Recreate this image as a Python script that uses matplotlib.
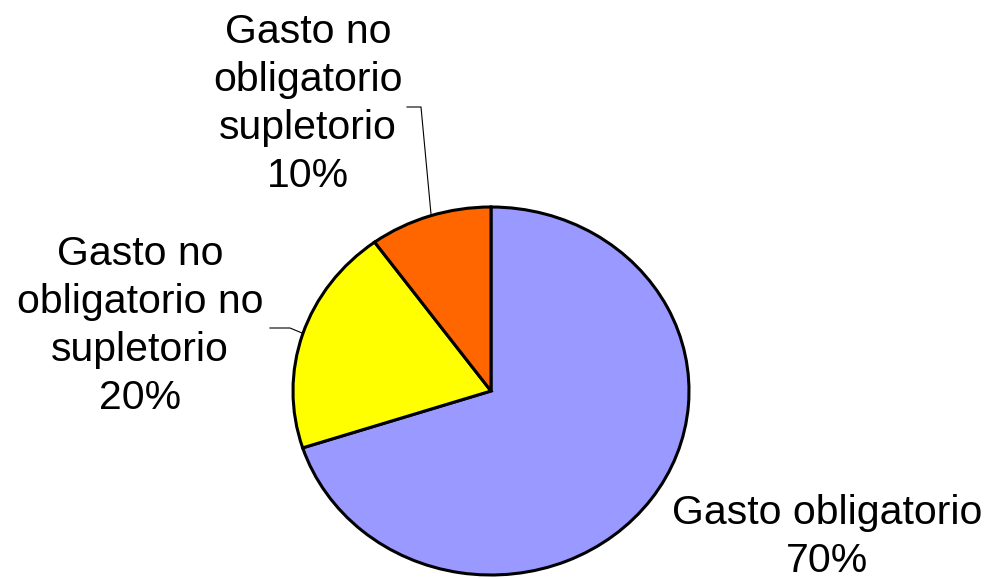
import matplotlib
matplotlib.use("Agg")
import matplotlib.pyplot as plt

labels = ["Gasto obligatorio", "Gasto no\nobligatorio no\nsupletorio", "Gasto no\nobligatorio\nsupletorio"]
values = [70, 20, 10]
colors = ["#9999FF", "#FFFF00", "#FF6600"]

W, H = 990, 579
fig = plt.figure(figsize=(W / 100, H / 100), dpi=100)
fig.patch.set_facecolor("white")

cx, cy, rx, ry = 491, 391, 198, 184
ax = fig.add_axes([(cx - rx) / W, (H - cy - ry) / H, 2 * rx / W, 2 * ry / H])
ax.pie(values, colors=colors, startangle=90, counterclock=False,
       wedgeprops=dict(edgecolor="black", linewidth=2.2))
ax.set_aspect("auto")
ax.set_xlim(-1, 1)
ax.set_ylim(-1, 1)
ax.axis("off")

font = dict(family="Liberation Sans", fontsize=29.5, ha="center", va="center", linespacing=1.33)
pcts = [f"{v}%" for v in values]

def px(x, y):
    return x / W, 1 - y / H

fig.text(*px(827, 537), f"{labels[0]}\n{pcts[0]}", **font)
fig.text(*px(140, 326), f"{labels[1]}\n{pcts[1]}", **font)
fig.text(*px(308, 104), f"{labels[2]}\n{pcts[2]}", **font)

# leader lines
fig.add_artist(plt.Line2D([431 / W, 421 / W, 407 / W], [1 - 214 / H, 1 - 107 / H, 1 - 107 / H],
                          color="black", lw=0.8))
fig.add_artist(plt.Line2D([302 / W, 290 / W, 270 / W], [1 - 333 / H, 1 - 328 / H, 1 - 328 / H],
                          color="black", lw=0.8))

fig.savefig("out.png", dpi=100)
